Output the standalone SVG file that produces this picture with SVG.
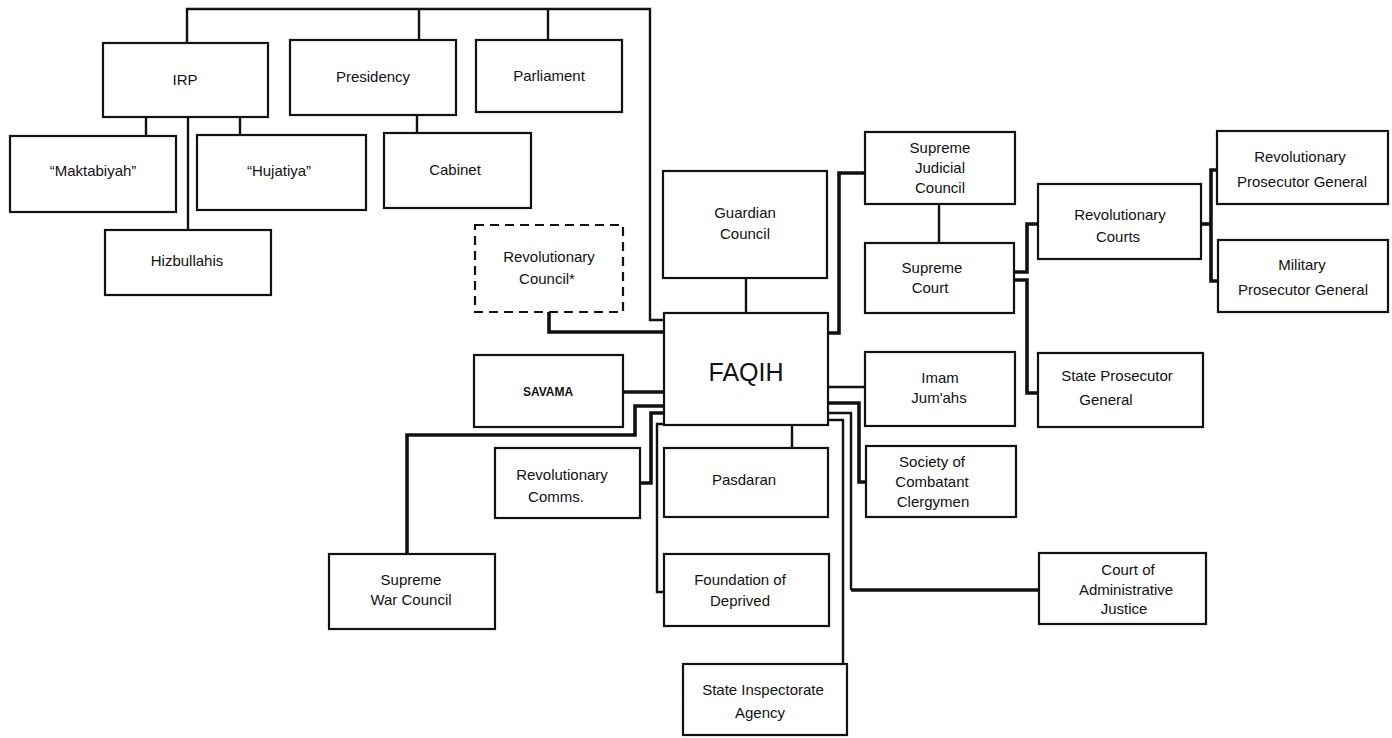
<svg xmlns="http://www.w3.org/2000/svg" width="1392" height="738" viewBox="0 0 1392 738">
<style>
.b{fill:#fff;stroke:#111;stroke-width:2.2}
.d{fill:#fff;stroke:#111;stroke-width:2.2;stroke-dasharray:9 6}
.c{fill:none;stroke:#111;stroke-width:2.4}
.k{fill:none;stroke:#111;stroke-width:3.6}
text{font-family:"Liberation Sans","DejaVu Sans",sans-serif;font-size:15px;fill:#111;text-anchor:middle}
.big{font-size:25px}
.sm{font-size:12px;font-weight:bold}
</style>
<rect width="1392" height="738" fill="#fff"/>
<g id="connectors">
<path class="c" d="M187,43 V9 H650 V320 H664"/>
<path class="c" d="M419,40 V9"/>
<path class="c" d="M548,40 V9"/>
<path class="c" d="M146,117 V136"/>
<path class="c" d="M188,117 V230"/>
<path class="c" d="M240,117 V135"/>
<path class="c" d="M417,115 V133"/>
<path class="k" d="M549,312 V332 H664"/>
<path class="c" d="M746,278 V313"/>
<path class="k" d="M865,173 H839 V333 H828"/>
<path class="c" d="M939,204 V243"/>
<path class="k" d="M1014,272 H1027 V224 H1038"/>
<path class="k" d="M1014,280 H1027 V393 H1038"/>
<path class="k" d="M1201,224 H1211"/>
<path class="k" d="M1217,170 H1211 V281 H1218"/>
<path class="k" d="M623,392 H664"/>
<path class="k" d="M407,554 V435 H635 V406 H664"/>
<path class="k" d="M640,483 H651 V413 H664"/>
<path class="c" d="M664,424 H657 V592 H664"/>
<path class="c" d="M792,425 V448"/>
<path class="c" d="M828,387 H865"/>
<path class="k" d="M828,403 H859 V482 H866"/>
<path class="c" d="M828,413 H851 V590"/>
<path class="k" d="M851,590 H1039"/>
<path class="c" d="M828,420 H843 V664"/>
</g>
<g id="irp"><rect class="b" x="103" y="43" width="165" height="74"/><text x="185" y="85">IRP</text></g>
<g id="presidency"><rect class="b" x="290" y="40" width="166" height="75"/><text x="373" y="82">Presidency</text></g>
<g id="parliament"><rect class="b" x="476" y="40" width="146" height="72"/><text x="549" y="81">Parliament</text></g>
<g id="maktabiyah"><rect class="b" x="10" y="136" width="166" height="76"/><text x="93" y="176">“Maktabiyah”</text></g>
<g id="hujatiya"><rect class="b" x="197" y="135" width="169" height="75"/><text x="279" y="176">“Hujatiya”</text></g>
<g id="cabinet"><rect class="b" x="384" y="133" width="147" height="75"/><text x="455" y="175">Cabinet</text></g>
<g id="hizbullahis"><rect class="b" x="105" y="230" width="166" height="65"/><text x="187" y="266">Hizbullahis</text></g>
<g id="revolutionary-council"><rect class="d" x="475" y="225" width="148" height="87"/><text x="549" y="262">Revolutionary</text><text x="547" y="284">Council*</text></g>
<g id="guardian-council"><rect class="b" x="663" y="171" width="164" height="107"/><text x="745" y="218">Guardian</text><text x="745" y="239">Council</text></g>
<g id="faqih"><rect class="b" x="664" y="313" width="164" height="112"/><text class="big" x="746" y="381">FAQIH</text></g>
<g id="savama"><rect class="b" x="474" y="355" width="149" height="72"/><text class="sm" x="548" y="396">SAVAMA</text></g>
<g id="supreme-judicial-council"><rect class="b" x="865" y="132" width="150" height="72"/><text x="940" y="153">Supreme</text><text x="940" y="173">Judicial</text><text x="940" y="193">Council</text></g>
<g id="supreme-court"><rect class="b" x="865" y="243" width="149" height="70"/><text x="932" y="273">Supreme</text><text x="930" y="293">Court</text></g>
<g id="revolutionary-courts"><rect class="b" x="1038" y="184" width="163" height="75"/><text x="1120" y="220">Revolutionary</text><text x="1118" y="242">Courts</text></g>
<g id="revolutionary-prosecutor-general"><rect class="b" x="1217" y="131" width="171" height="73"/><text x="1300" y="162">Revolutionary</text><text x="1302" y="187">Prosecutor General</text></g>
<g id="military-prosecutor-general"><rect class="b" x="1218" y="240" width="170" height="72"/><text x="1302" y="270">Military</text><text x="1303" y="295">Prosecutor General</text></g>
<g id="state-prosecutor-general"><rect class="b" x="1038" y="353" width="165" height="74"/><text x="1117" y="381">State Prosecutor</text><text x="1106" y="405">General</text></g>
<g id="imam-jumahs"><rect class="b" x="865" y="352" width="150" height="74"/><text x="940" y="383">Imam</text><text x="939" y="403">Jum'ahs</text></g>
<g id="revolutionary-comms"><rect class="b" x="495" y="448" width="145" height="70"/><text x="562" y="480">Revolutionary</text><text x="556" y="502">Comms.</text></g>
<g id="pasdaran"><rect class="b" x="664" y="448" width="164" height="69"/><text x="744" y="485">Pasdaran</text></g>
<g id="society-of-combatant-clergymen"><rect class="b" x="866" y="446" width="150" height="71"/><text x="932" y="467">Society of</text><text x="932" y="487">Combatant</text><text x="933" y="507">Clergymen</text></g>
<g id="supreme-war-council"><rect class="b" x="329" y="554" width="166" height="75"/><text x="411" y="585">Supreme</text><text x="411" y="605">War Council</text></g>
<g id="foundation-of-deprived"><rect class="b" x="664" y="554" width="165" height="72"/><text x="740" y="585">Foundation of</text><text x="740" y="606">Deprived</text></g>
<g id="court-of-administrative-justice"><rect class="b" x="1039" y="553" width="167" height="71"/><text x="1128" y="575">Court of</text><text x="1126" y="595">Administrative</text><text x="1124" y="614">Justice</text></g>
<g id="state-inspectorate-agency"><rect class="b" x="683" y="664" width="164" height="71"/><text x="763" y="695">State Inspectorate</text><text x="760" y="718">Agency</text></g>
</svg>
